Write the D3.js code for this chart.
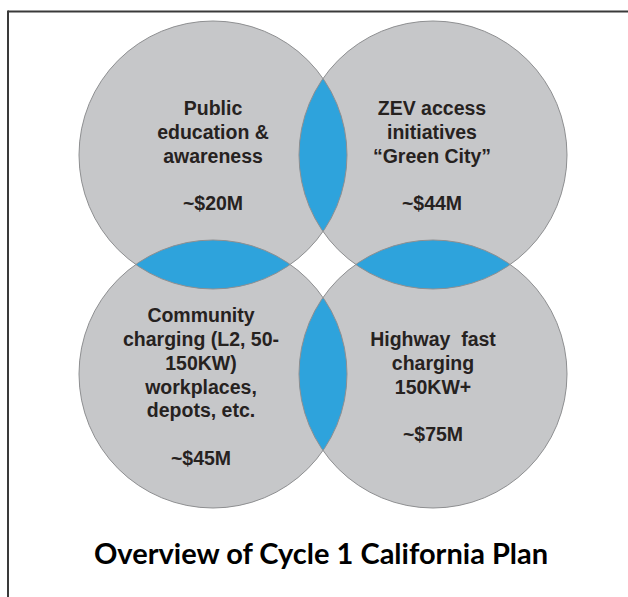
<!DOCTYPE html>
<html lang="en">
<head>
  <meta charset="UTF-8">
  <title>Overview of Cycle 1 California Plan</title>
  <script src="https://d3js.org/d3.v7.min.js"></script>
  <style>
    body { margin: 0; background: #fff; }
    .label {
      font-family: "Liberation Sans", Arial, sans-serif;
      font-size: 19.5px;
      font-weight: bold;
      fill: #26221f;
      text-anchor: middle;
    }
    .title {
      font-family: Lato, "Open Sans", sans-serif;
      font-size: 29px;
      font-weight: bold;
      fill: #000;
      text-anchor: middle;
    }
  </style>
</head>
<body>
  <div id="chart"></div>

  <script>
    // four funding areas, laid out 2x2
    const areas = ["education", "zev", "community", "highway"];
    const cols = [0, 1, 0, 1];
    const rows = [0, 0, 1, 1];
    const labels = [
      ["Public", "education &", "awareness"],
      ["ZEV access", "initiatives", "\u201cGreen City\u201d"],
      ["Community", "charging (L2, 50-", "150KW)", "workplaces,", "depots, etc."],
      ["Highway  fast", "charging", "150KW+"]
    ];
    const amounts = ["~$20M", "~$44M", "~$45M", "~$75M"];
    // pairs of circles whose overlap is shaded blue
    const overlaps = [[0, 1], [0, 2], [1, 3], [2, 3]];
    const title = "Overview of Cycle 1 California Plan";

    const width = 628, height = 597;
    const r = 134;
    const lineH = 23.8;

    const svg = d3.select("#chart")
      .append("svg")
      .attr("width", width)
      .attr("height", height);

    const x = d3.scalePoint().domain([0, 1]).range([213, 433]);
    const y = d3.scalePoint().domain([0, 1]).range([155, 374]);

    const data = areas.map((id, i) => ({
      id, i,
      cx: x(cols[i]), cy: y(rows[i]),
      lines: labels[i].concat([""], [amounts[i]])
    }));

    // frame: top and left rules only
    svg.append("line")
      .attr("x1", 8).attr("x2", width).attr("y1", 11.5).attr("y2", 11.5)
      .attr("stroke", "#3a3a3a").attr("stroke-width", 2);
    svg.append("line")
      .attr("x1", 8).attr("x2", 8).attr("y1", 10.5).attr("y2", height)
      .attr("stroke", "#3a3a3a").attr("stroke-width", 2);

    const defs = svg.append("defs");
    defs.selectAll("clipPath")
      .data(data)
      .enter()
      .append("clipPath")
      .attr("id", d => "clip-" + d.id)
      .append("circle")
      .attr("cx", d => d.cx)
      .attr("cy", d => d.cy)
      .attr("r", r);

    svg.selectAll(".disc")
      .data(data)
      .enter()
      .append("circle")
      .attr("class", "disc")
      .attr("cx", d => d.cx)
      .attr("cy", d => d.cy)
      .attr("r", r)
      .attr("fill", "#c6c7c9");

    svg.selectAll(".lens")
      .data(overlaps)
      .enter()
      .append("circle")
      .attr("class", "lens")
      .attr("cx", p => data[p[1]].cx)
      .attr("cy", p => data[p[1]].cy)
      .attr("r", r)
      .attr("clip-path", p => `url(#clip-${data[p[0]].id})`)
      .attr("fill", "#2ea3dc");

    svg.selectAll(".ring")
      .data(data)
      .enter()
      .append("circle")
      .attr("class", "ring")
      .attr("cx", d => d.cx)
      .attr("cy", d => d.cy)
      .attr("r", r)
      .attr("fill", "none")
      .attr("stroke", "#8e8f91")
      .attr("stroke-width", 1);

    // text block sits a little below each centre
    const shiftY = [7.5, 19.5];
    const shiftX = [0, -1, -12, 0];

    const txt = svg.selectAll(".label")
      .data(data)
      .enter()
      .append("text")
      .attr("class", "label");

    txt.selectAll("tspan")
      .data(d => d.lines.map((t, k) => ({
        t,
        x: d.cx + shiftX[d.i],
        y: d.cy + shiftY[rows[d.i]] + (k - (d.lines.length - 1) / 2) * lineH
      })))
      .enter()
      .append("tspan")
      .attr("x", l => l.x)
      .attr("y", l => l.y)
      .attr("xml:space", "preserve")
      .style("white-space", "pre")
      .text(l => l.t);

    svg.append("text")
      .attr("class", "title")
      .attr("x", 321)
      .attr("y", 564)
      .text(title);
  </script>
</body>
</html>
